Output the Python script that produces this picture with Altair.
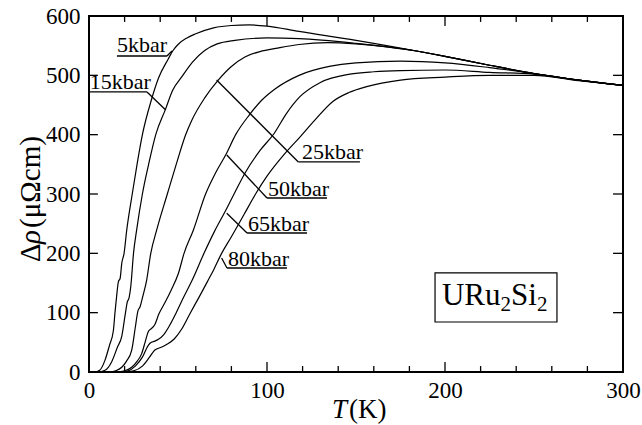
import altair as alt
import pandas as pd

# ---- curve data: temperature T (K) and resistivity change (micro-ohm cm) ----
T5 = [0, 3, 6, 9, 11.5, 13.7, 14.6, 15.5, 16.5, 17.5, 18.4, 19.7, 21.2, 24.3, 27, 30, 35, 39, 44.6, 47, 50, 55, 60, 70, 80, 90, 100, 118, 150, 184, 200, 225, 250, 275, 300]
R5 = [0, 0, 3, 20, 45, 70, 100, 127, 152, 158, 183, 200, 239, 300, 350, 400, 458, 495, 528, 541, 552, 563, 570, 580, 584, 585, 583, 574, 559, 541, 532, 517, 503, 492, 483]

T15 = [0, 5, 9, 12.7, 16, 18.4, 20.5, 21.5, 22.5, 23.5, 25, 26.8, 30, 33.5, 37.5, 43, 47, 52, 58, 65, 72, 82, 100, 118, 150, 184, 200, 225, 250, 275, 300]
R15 = [0, 0, 3, 17, 42, 60, 100, 118, 125, 145, 200, 240, 300, 350, 400, 443, 475, 497, 522, 542, 553, 559, 563, 562, 554, 541, 532, 517, 503, 492, 483]

T25 = [0, 12, 15, 18.4, 21, 24, 26, 27.5, 28.7, 30, 32.4, 34.7, 38, 44, 49, 54.3, 57.7, 65, 72.6, 80, 87.6, 96, 106, 118, 134, 150, 184, 200, 225, 250, 275, 300]
R25 = [0, 0, 2, 8, 18, 37, 75, 103, 110, 125, 155, 200, 239, 300, 350, 400, 424, 462, 492, 515, 531, 540, 546, 552, 555, 553, 541, 532, 517, 503, 492, 483]

T50 = [0, 16, 20, 24, 27, 29.6, 31.5, 33.3, 35, 37, 39.3, 42.7, 46, 50.2, 53.4, 58.6, 65.5, 71, 77, 82.4, 90, 97, 104.5, 118, 135, 150, 175, 200, 225, 250, 275, 300]
R50 = [0, 0, 2, 8, 18, 31, 50, 68, 73, 80, 98, 117, 137, 166, 200, 239, 300, 335, 367, 400, 433, 458, 477, 500, 515, 521, 524, 521, 513, 503, 492, 483]

T65 = [0, 18, 22, 26, 30, 33.3, 35, 37, 39, 42, 45, 49, 53, 58, 64.6, 70.5, 76.4, 81.5, 88, 96, 104, 111, 118.5, 130, 146.6, 160, 175, 200, 225, 250, 275, 300]
R65 = [0, 0, 2, 10, 25, 45, 50, 52, 55, 63, 77, 100, 125, 155, 200, 237, 270, 300, 337, 373, 402, 436, 464, 488, 502, 506, 508, 509, 505, 502, 492, 483]

T80 = [0, 20, 25, 30, 34, 37, 40.8, 44, 48, 52, 57, 62, 67, 70, 74, 80, 87, 94, 100, 110, 118.5, 127, 137, 146, 156, 175, 200, 225, 250, 275, 300]
R80 = [0, 0, 2, 10, 25, 37, 42, 47, 56, 72, 100, 127, 155, 172, 197, 228, 265, 302, 330, 368, 396, 425, 456, 471, 481, 492, 497, 500, 500, 491, 483]

series_names = ["5kbar", "15kbar", "25kbar", "50kbar", "65kbar", "80kbar"]
series_T = [T5, T15, T25, T50, T65, T80]
series_R = [R5, R15, R25, R50, R65, R80]

# ---- label annotations (data coordinates) ----
label_T = [15.7, 0.4, 119.7, 100.6, 89.3, 78.1]
label_R = [539, 477, 359, 296.6, 237.6, 178.7]
under_T1 = [15.7, 0.0, 117.6, 100.0, 88.8, 77.5]
under_T2 = [43.8, 32.6, 152.2, 133.7, 122.5, 111.2]
under_R = [532.6, 472, 354, 293.3, 234.3, 175.3]
lead_T1 = [43.8, 32.6, 71.7, 77.4, 77.4, 74.5]
lead_R1 = [532.6, 472, 492, 365.7, 267.5, 192.1]
lead_T2 = [46.6, 43.1, 117.6, 100.0, 88.8, 77.5]
lead_R2 = [541, 441.6, 354, 293.3, 234.3, 175.3]

x_minor = [20, 40, 60, 80, 120, 140, 160, 180, 220, 240, 260, 280]
x_major = [100, 200]
y_ticks = [100, 200, 300, 400, 500]

formula_text = ["URu", "2", "Si", "2"]
formula_T = [198.3, 231.2, 237.1, 251.7]
formula_R = [112.9, 102.8, 112.9, 102.8]
formula_size = [31, 21, 31, 21]
box = dict(x1=194.4, x2=262.9, y1=84.3, y2=166.9)

FONT = "Liberation Serif"

# ---- build tables ----
rows = []
for name, Ts, Rs in zip(series_names, series_T, series_R):
    for i, (t, r) in enumerate(zip(Ts, Rs)):
        rows.append({"series": name, "T": t, "rho": r, "idx": i})
df = pd.DataFrame(rows)

rule_rows = []
for t in x_minor:
    rule_rows.append({"x1": t, "y1": 0, "x2": t, "y2": 10})
    rule_rows.append({"x1": t, "y1": 600, "x2": t, "y2": 590})
for t in x_major:
    rule_rows.append({"x1": t, "y1": 0, "x2": t, "y2": 17})
    rule_rows.append({"x1": t, "y1": 600, "x2": t, "y2": 583})
for r in y_ticks:
    rule_rows.append({"x1": 0, "y1": r, "x2": 5, "y2": r})
    rule_rows.append({"x1": 300, "y1": r, "x2": 294.4, "y2": r})
for i in range(len(series_names)):
    rule_rows.append({"x1": under_T1[i], "y1": under_R[i], "x2": under_T2[i], "y2": under_R[i]})
    rule_rows.append({"x1": lead_T1[i], "y1": lead_R1[i], "x2": lead_T2[i], "y2": lead_R2[i]})
rules_df = pd.DataFrame(rule_rows)

labels_df = pd.DataFrame({"label": series_names, "T": label_T, "rho": label_R})
formula_df = pd.DataFrame({"t": formula_text, "T": formula_T, "rho": formula_R, "fs": formula_size})
box_df = pd.DataFrame([box])
one = pd.DataFrame({"a": [0]})

xscale = alt.Scale(domain=[0, 300], nice=False, zero=False)
yscale = alt.Scale(domain=[0, 600], nice=False, zero=False)

lines = alt.Chart(df).mark_line(color="black", strokeWidth=1.2, interpolate="monotone", clip=True).encode(
    x=alt.X("T:Q", scale=xscale, title=None,
            axis=alt.Axis(values=[0, 100, 200, 300], title=None, ticks=False, domain=False, grid=False,
                          labelFont=FONT, labelFontSize=23, labelColor="black", labelPadding=7,
                          labelFlush=False, labelOverlap=False)),
    y=alt.Y("rho:Q", scale=yscale, title=None,
            axis=alt.Axis(values=[0, 100, 200, 300, 400, 500, 600], title=None, ticks=False, domain=False,
                          grid=False, labelFont=FONT, labelFontSize=23, labelColor="black", labelPadding=9,
                          labelFlush=False, labelOverlap=False)),
    detail="series:N",
    order="idx:Q",
)

rules = alt.Chart(rules_df).mark_rule(color="black", strokeWidth=1.3).encode(
    x=alt.X("x1:Q", title=None), y=alt.Y("y1:Q", title=None), x2="x2:Q", y2="y2:Q"
)

labels = alt.Chart(labels_df).mark_text(font=FONT, fontSize=22, align="left", baseline="alphabetic",
                                        color="black").encode(
    x=alt.X("T:Q", title=None), y=alt.Y("rho:Q", title=None), text="label:N"
)

boxes = alt.Chart(box_df).mark_rect(fillOpacity=0, stroke="black", strokeWidth=1.2).encode(
    x=alt.X("x1:Q", title=None), x2="x2:Q", y=alt.Y("y1:Q", title=None), y2="y2:Q"
)

formula = alt.Chart(formula_df).mark_text(font=FONT, align="left", baseline="alphabetic", color="black").encode(
    x=alt.X("T:Q", title=None), y=alt.Y("rho:Q", title=None), text="t:N",
    size=alt.Size("fs:Q", scale=None, legend=None)
)

# axis titles with mixed styles
xt1 = alt.Chart(one).mark_text(text="T", font=FONT, fontSize=27, fontStyle="italic", align="left",
                               baseline="alphabetic", color="black").encode(x=alt.value(243), y=alt.value(402))
xt2 = alt.Chart(one).mark_text(text="(K)", font=FONT, fontSize=27, align="left",
                               baseline="alphabetic", color="black").encode(x=alt.value(260), y=alt.value(402))
yt1 = alt.Chart(one).mark_text(text="Δ", font=FONT, fontSize=29, angle=270, align="left",
                               baseline="alphabetic", color="black").encode(x=alt.value(-49), y=alt.value(246))
yt2 = alt.Chart(one).mark_text(text="ρ", font=FONT, fontSize=29, fontStyle="italic", angle=270, align="left",
                               baseline="alphabetic", color="black").encode(x=alt.value(-49), y=alt.value(228))
yt3 = alt.Chart(one).mark_text(text="(μΩcm)", font=FONT, fontSize=29, angle=270, align="left",
                               baseline="alphabetic", color="black").encode(x=alt.value(-49), y=alt.value(212))

chart = alt.layer(lines, rules, labels, boxes, formula, xt1, xt2, yt1, yt2, yt3).properties(
    width=534, height=356,
    autosize=alt.AutoSizeParams(type="none"),
    padding={"left": 89, "top": 16, "right": 19, "bottom": 53},
).configure_view(stroke="black", strokeWidth=2)

chart.save("out.html", embed_options={"renderer": "svg", "actions": False})
